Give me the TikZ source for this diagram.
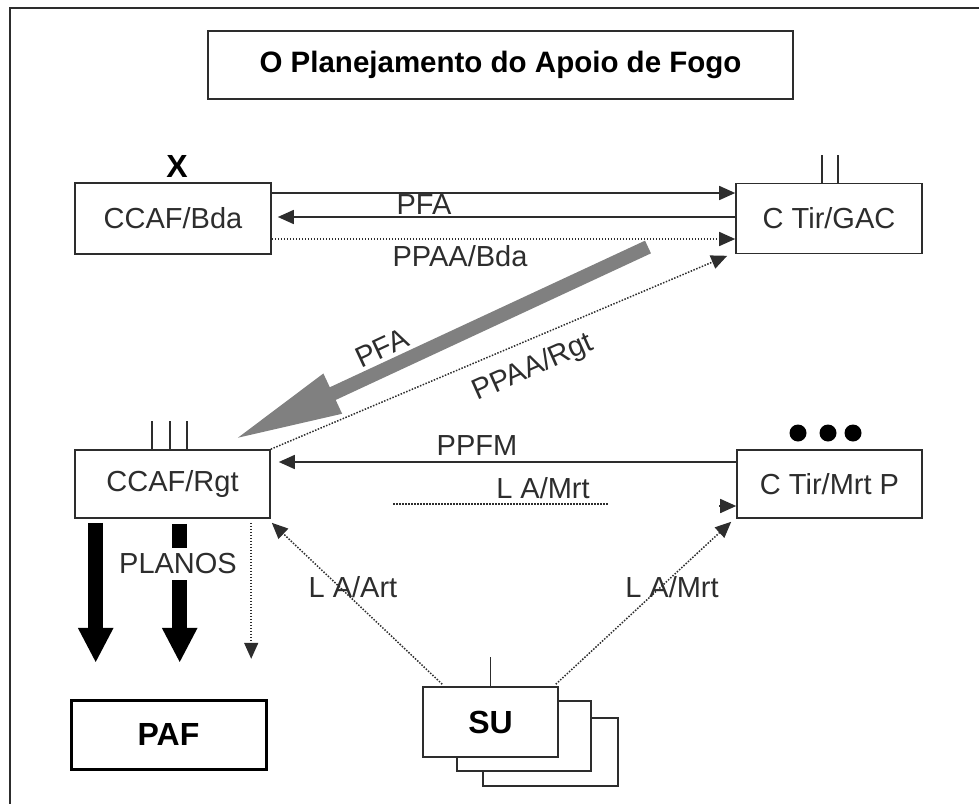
\documentclass[tikz,border=0pt]{standalone}
\usepackage{fontspec}
\setmainfont{Liberation Sans}
\usetikzlibrary{arrows.meta,calc}
\newcommand{\lblfont}{\fontsize{29}{34}\selectfont}
\newcommand{\bigfont}{\fontsize{32}{36}\selectfont\bfseries}
\definecolor{ink}{RGB}{45,45,45}
\definecolor{arrowgray}{RGB}{128,128,128}
\begin{document}
\begin{tikzpicture}[x=1pt,y=-1pt,
  box/.style={draw=ink, line width=1.6pt, fill=white, inner sep=0pt, font=\lblfont, text=ink},
  lbl/.style={font=\lblfont, text=ink, inner sep=1pt},
  conn/.style={draw=ink, line width=1.6pt},
  arr/.style={conn, -{Triangle[length=16pt,width=14pt]}},
  dots/.style={draw=ink, line width=1.5pt, dash pattern=on 1.5pt off 1.5pt},
  darr/.style={dots, -{Triangle[length=16pt,width=14pt]}},
  bigarr/.style={line width=15pt, draw=black, -{Triangle[length=35pt,width=33pt]}},
  tick/.style={draw=ink, line width=1.6pt}]
\useasboundingbox (0,0) rectangle (979,803);
% outer frame
\draw[draw=ink, line width=1.5pt] (10,810) -- (10,8) -- (990,8);

% title
\node[box, font=\fontsize{29.5}{34}\selectfont\bfseries, text=black, minimum width=585pt, minimum height=68pt] (title) at (500.5,65) {O Planejamento do Apoio de Fogo};

% main boxes
\node[box, minimum width=196pt, minimum height=71pt] (bda) at (173,218.5) {CCAF/Bda};
\node[box, minimum width=186pt, minimum height=70pt] (gac) at (829,218.5) {C Tir/GAC};
\node[box, minimum width=195pt, minimum height=68pt] (rgt) at (172.5,484) {CCAF/Rgt};
\node[box, minimum width=185pt, minimum height=68pt] (mrt) at (829.5,484) {C Tir/Mrt P};

% SU stack
\node[box, minimum width=135pt, minimum height=68pt] (su3) at (550.5,752) {};
\node[box, minimum width=134pt, minimum height=70pt] (su2) at (524,736) {};
\node[box, font=\bigfont, text=black, minimum width=135pt, minimum height=70pt] (su) at (490.5,722) {SU};

% PAF
\node[box, line width=3pt, draw=black, font=\bigfont, text=black, minimum width=195pt, minimum height=69pt] (paf) at (168.5,734.5) {PAF};

% symbols above boxes
\node[font=\bigfont, text=black, inner sep=0pt] (x) at (177,166) {X};
\draw[tick] ($(gac.north west)+(87,0)$) -- ++(0,-28);
\draw[tick] ($(gac.north west)+(103,0)$) -- ++(0,-28);
\draw[tick] ($(rgt.north west)+(78,0)$) -- ++(0,-28);
\draw[tick] ($(rgt.north west)+(96,0)$) -- ++(0,-28);
\draw[tick] ($(rgt.north west)+(113,0)$) -- ++(0,-28);
\draw[tick] (su.north) -- ++(0,-29);
\fill[black] (798,433) circle (8.5pt);
\fill[black] (828,433) circle (8.5pt);
\fill[black] (853,433) circle (8.5pt);

% Bda <-> GAC
\draw[arr] ($(bda.east)+(0,-25.5)$) -- ($(gac.west)+(0,-25.5)$);
\draw[arr, shorten >=6pt] ($(gac.west)+(0,-1.5)$) -- ($(bda.east)+(0,-1.5)$);
\draw[darr] ($(bda.east)+(0,20.5)$) -- ($(gac.west)+(0,20.5)$);
\node[lbl] (lpfa1) at (424,205) {PFA};
\node[lbl] (lppaabda) at (460,256) {PPAA/Bda};

% gray PFA arrow GAC -> Rgt
\coordinate (gs) at (648,247);
\coordinate (gt) at (233,440);
\draw[line width=14pt, draw=arrowgray, -{Triangle[length=110pt,width=40pt]}] (gs) -- (gt);
\node[lbl, rotate=25] (lpfa2) at (382,348) {PFA};

% PPAA/Rgt dotted
\draw[darr] (rgt.north east) -- ($(gac.south west)+(-8,1.5)$);
\node[lbl, rotate=24] (lppaargt) at (533,368) {PPAA/Rgt};

% PPFM
\draw[arr, shorten >=8pt] ($(mrt.west)+(0,-22)$) -- ($(rgt.east)+(0,-22)$);
\node[lbl] (lppfm) at (477,446) {PPFM};

% L A/Mrt horizontal dotted
\coordinate (lm1) at (393,504);
\coordinate (lm2) at (609,504);
\draw[dots] (lm1) -- (lm2);
\node[lbl] (llamrt1) at (543,488) {L A/Mrt};
\draw[arr] ($(mrt.west)+(-17,22)$) -- ($(mrt.west)+(0,22)$);

% SU diagonals
\draw[darr] ($(su.north west)+(20,-2)$) -- ($(rgt.south east)+(1,4)$);
\draw[darr] ($(su.north east)+(-3,-2)$) -- ($(mrt.south west)+(-5,3)$);
\node[lbl] (llaart) at (353,587) {L A/Art};
\node[lbl] (llamrt2) at (672,587) {L A/Mrt};

% PLANOS arrows
\draw[bigarr] ($(rgt.south west)+(21.5,4)$) -- ($(rgt.south west)+(21.5,144)$);
\draw[bigarr] ($(rgt.south west)+(105.5,5)$) -- ($(rgt.south west)+(105.5,144)$);
\node[lbl, fill=white, inner xsep=1pt, inner ysep=6pt] (lplanos) at (178,564) {PLANOS};
\draw[darr] ($(rgt.south west)+(177,4)$) -- ($(rgt.south west)+(177,140)$);
\end{tikzpicture}
\end{document}
